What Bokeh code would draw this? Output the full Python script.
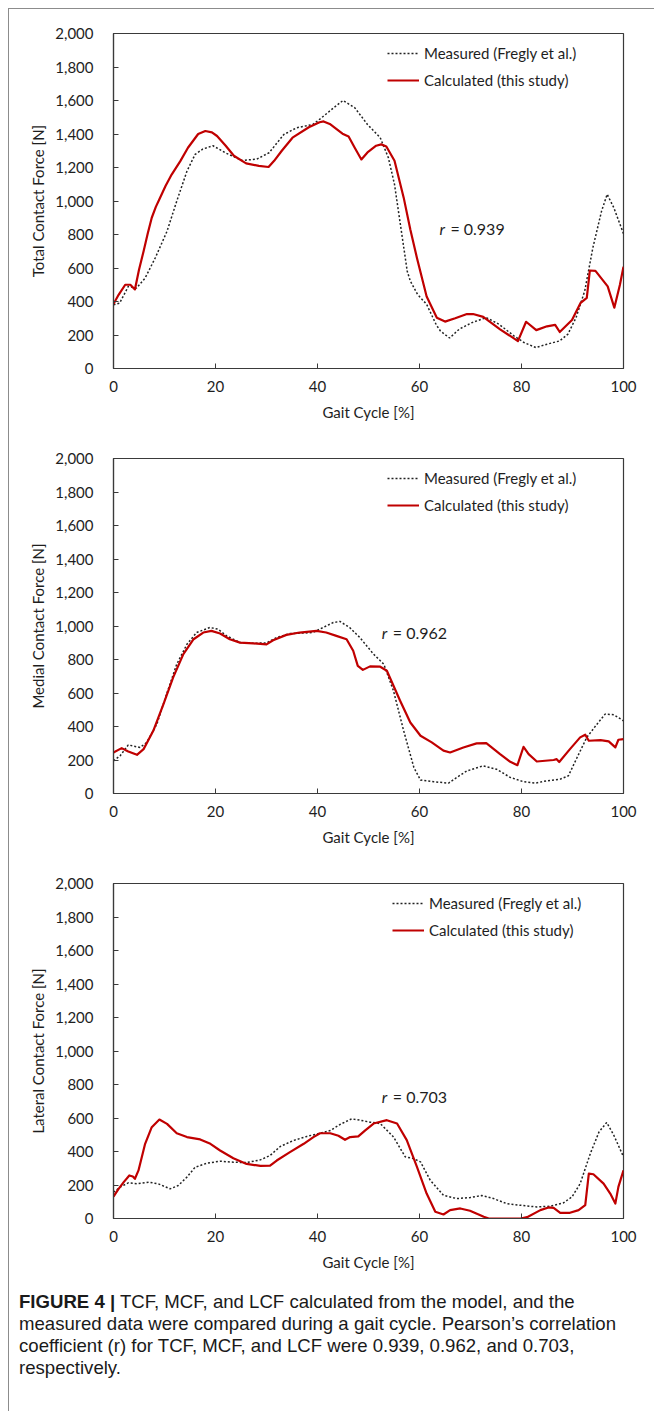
from bokeh.plotting import figure
from bokeh.models import Range1d, FixedTicker, NumeralTickFormatter, Legend, LegendItem, Label, Div
from bokeh.layouts import column
from bokeh.embed import file_html
from bokeh.resources import INLINE

# ---------------- data ----------------
x_ticks = [0, 20, 40, 60, 80, 100]
y_ticks = [0, 200, 400, 600, 800, 1000, 1200, 1400, 1600, 1800, 2000]

legend_labels = ["Measured (Fregly et al.)", "Calculated (this study)"]
y_titles = ["Total Contact Force [N]", "Medial Contact Force [N]", "Lateral Contact Force [N]"]
x_title = "Gait Cycle [%]"
r_texts = ["= 0.939", "= 0.962", "= 0.703"]
r_pos = [(63.9, 834), (52.6, 961), (52.6, 730)]

# Total contact force
tcf_meas_x = [0, 1.2, 2.9, 4.5, 6.2, 8.2, 10.5, 12.4, 14.4, 16.0, 17.5, 19.5, 21.9, 25.2, 28.1, 30.5,
              33.4, 35.9, 39.1, 40.8, 43.2, 45.0, 47.3, 49.8, 52.3, 53.9, 55.1, 56.3, 57.6, 58.2, 59.6,
              61.4, 63.3, 64.1, 65.9, 67.8, 70.3, 73.1, 75.6, 78.5, 80.5, 82.8, 85.0, 87.5, 89.1, 90.7,
              92.4, 94.0, 95.7, 96.8, 98.1, 100]
tcf_meas_y = [380, 390, 490, 480, 540, 661, 820, 999, 1178, 1278, 1310, 1330, 1288, 1242, 1250, 1288,
              1397, 1437, 1457, 1497, 1557, 1600, 1557, 1457, 1378, 1258, 1099, 850, 580, 522, 443,
              383, 260, 224, 182, 235, 274, 304, 264, 195, 155, 125, 145, 165, 205, 304,
              463, 722, 940, 1040, 960, 805]
tcf_calc_x = [0, 1.0, 2.3, 3.3, 4.2, 5.0, 5.9, 6.7, 7.5, 8.3, 9.0, 10.2, 11.4, 13.1, 14.6, 16.6, 18.0,
              19.3, 20.3, 22.0, 23.6, 26.0, 28.5, 30.4, 31.5, 33.0, 35.1, 38.3, 40.4, 41.2, 42.4, 44.9,
              46.1, 47.3, 48.6, 49.8, 51.5, 52.5, 53.5, 55.1, 56.9, 58.2, 59.5, 61.4, 63.4, 65.0, 67.0,
              69.3, 70.5, 72.5, 75.8, 78.0, 79.3, 80.9, 82.9, 85.0, 86.6, 87.5, 89.9, 91.6, 92.8, 93.4,
              94.5, 96.9, 98.2, 99.3, 100]
tcf_calc_y = [385, 440, 500, 500, 472, 590, 700, 805, 900, 965, 1010, 1090, 1158, 1238, 1318, 1400, 1418,
              1410, 1388, 1330, 1270, 1225, 1210, 1203, 1240, 1300, 1378, 1440, 1470, 1475, 1460, 1402,
              1385, 1318, 1248, 1290, 1330, 1338, 1325, 1240, 1020, 830, 660, 430, 303, 280, 300,
              325, 325, 308, 234, 190, 163, 279, 229, 252, 260, 218, 290, 392, 422, 585,
              583, 490, 363, 500, 608]

# Medial contact force
mcf_meas_x = [0, 1.3, 2.9, 3.9, 5.2, 6.5, 8.5, 10.4, 12.4, 14.4, 16.3, 18.9, 20.5, 22.2, 24.8, 27.4,
              30.0, 32.0, 34.6, 36.5, 39.1, 41.1, 43.1, 44.4, 46.3, 48.3, 51.0, 53.0, 54.9, 56.9, 58.9,
              60.2, 62.8, 65.7, 67.3, 69.3, 72.5, 75.1, 77.8, 80.4, 82.7, 85.0, 87.6, 89.2, 90.9, 92.8,
              94.8, 96.4, 98.1, 100]
mcf_meas_y = [195, 225, 290, 283, 275, 304, 414, 593, 772, 891, 961, 991, 981, 941, 901, 897,
              899, 931, 955, 957, 961, 991, 1021, 1027, 991, 931, 832, 772, 613, 374, 155,
              80, 70, 62, 96, 135, 165, 145, 96, 70, 62, 76, 86, 106, 215, 335,
              414, 474, 470, 434]
mcf_calc_x = [0, 1.6, 2.9, 4.6, 5.9, 7.8, 9.8, 11.7, 13.7, 15.7, 17.6, 19.2, 20.9, 22.8, 24.8, 27.4,
              30.0, 31.3, 33.9, 36.5, 39.8, 41.7, 43.7, 45.7, 47.0, 47.9, 48.9, 50.3, 52.3, 53.6, 56.2,
              58.2, 60.2, 62.4, 64.7, 66.0, 68.6, 71.2, 73.1, 75.8, 77.8, 79.2, 80.4, 81.4, 83.0, 86.3,
              86.9, 87.4, 89.5, 91.5, 92.5, 93.2, 95.5, 97.1, 98.4, 99.0, 100]
mcf_calc_y = [245, 271, 251, 231, 265, 374, 533, 693, 832, 921, 961, 971, 955, 921, 901, 896,
              890, 915, 947, 961, 971, 961, 941, 921, 852, 762, 738, 759, 757, 733, 554,
              424, 345, 305, 256, 245, 275, 299, 301, 235, 189, 169, 279, 235, 191, 200,
              205, 188, 265, 335, 351, 315, 319, 311, 275, 321, 325]

# Lateral contact force
lcf_meas_x = [0, 1.3, 2.9, 4.6, 6.9, 8.8, 11.1, 12.7, 14.4, 16.0, 18.3, 20.9, 23.5, 26.1, 28.8, 30.7,
              32.7, 35.3, 37.9, 40.5, 42.5, 44.4, 46.7, 48.4, 50.3, 52.3, 54.9, 57.2, 58.8, 60.2, 62.1,
              64.7, 67.3, 69.9, 72.2, 74.5, 77.1, 79.8, 83.0, 85.6, 88.2, 89.9, 91.5, 93.5, 95.2, 96.7,
              98.1, 100]
lcf_meas_y = [157, 187, 213, 207, 217, 207, 177, 197, 247, 306, 330, 342, 336, 334, 350, 376,
              430, 466, 490, 509, 525, 561, 595, 587, 575, 567, 487, 368, 358, 338, 229,
              139, 119, 125, 137, 119, 89, 79, 69, 73, 93, 129, 208, 388, 517, 573,
              497, 368]
lcf_calc_x = [0, 1.0, 2.0, 3.1, 3.8, 4.2, 4.9, 6.2, 7.5, 9.0, 10.5, 12.4, 14.4, 17.0, 19.0, 20.9,
              23.5, 26.1, 28.8, 30.7, 32.0, 34.6, 37.3, 39.2, 40.5, 42.5, 44.1, 45.4, 46.4, 48.0, 49.3,
              51.0, 53.6, 55.6, 57.5, 59.5, 61.4, 63.1, 64.7, 66.0, 68.0, 69.9, 72.6, 73.6, 79.8, 81.1,
              83.7, 85.3, 86.3, 87.6, 89.5, 91.2, 92.5, 93.2, 94.1, 96.1, 97.4, 98.4, 99.0, 100]
lcf_calc_y = [131, 177, 217, 257, 251, 237, 287, 446, 545, 591, 565, 509, 486, 472, 446, 406,
              360, 326, 314, 316, 346, 396, 446, 486, 509, 509, 494, 470, 486, 490, 525,
              567, 587, 567, 468, 308, 149, 40, 24, 50, 60, 46, 10, 0, 0, 8,
              50, 66, 64, 34, 34, 50, 80, 268, 264, 208, 149, 89, 189, 288]

caption_bold = "FIGURE 4 |"
caption_lines = [
    "TCF, MCF, and LCF calculated from the model, and the",
    "measured data were compared during a gait cycle. Pearson\u2019s correlation",
    "coefficient (r) for TCF, MCF, and LCF were 0.939, 0.962, and 0.703,",
    "respectively.",
]

# ---------------- styling ----------------
RED = "#C00000"
DOT = "#222222"
TXT = "#1e1e1e"
AX = "#3a3a3a"
FONT = "Lato"
legend_xs = [274, 274, 279]


def make_panel(idx, mx, my, cx, cy):
    p = figure(width=645, height=425, output_backend="svg", toolbar_location=None,
               x_range=Range1d(0, 100), y_range=Range1d(0, 2000),
               min_border_left=104, min_border_right=31, min_border_top=24, min_border_bottom=66,
               background_fill_color="white", border_fill_color="white")
    p.grid.visible = False
    p.outline_line_color = AX
    p.outline_line_width = 1.2

    rm = p.line(mx, my, line_color=DOT, line_width=1.5, line_dash="2 2")
    rc = p.line(cx, cy, line_color=RED, line_width=2.2, line_join="round")

    p.xaxis.ticker = FixedTicker(ticks=x_ticks)
    p.yaxis.ticker = FixedTicker(ticks=y_ticks)
    p.yaxis.formatter = NumeralTickFormatter(format="0,0")
    for ax in (p.xaxis[0], p.yaxis[0]):
        ax.major_tick_in = 5
        ax.major_tick_out = 0
        ax.minor_tick_line_color = None
        ax.axis_line_color = AX
        ax.axis_line_width = 1.2
        ax.major_tick_line_color = AX
        ax.major_label_text_font = FONT
        ax.major_label_text_font_size = "15px"
        ax.major_label_text_color = TXT
        ax.axis_label_text_font = FONT
        ax.axis_label_text_font_size = "15px"
        ax.axis_label_text_font_style = "normal"
        ax.axis_label_text_color = TXT
    p.xaxis.major_label_standoff = 12
    p.yaxis.major_label_standoff = 20
    p.xaxis.axis_label_standoff = 8
    p.yaxis.axis_label_standoff = 5
    p.xaxis.axis_label = x_title
    p.yaxis.axis_label = y_titles[idx]

    legend = Legend(items=[LegendItem(label=legend_labels[0], renderers=[rm]),
                           LegendItem(label=legend_labels[1], renderers=[rc])],
                    location=(legend_xs[idx], 278), orientation="vertical",
                    border_line_color=None, background_fill_alpha=0,
                    padding=0, margin=0, spacing=7, glyph_width=32, glyph_height=20,
                    label_height=20, label_standoff=5,
                    label_text_font=FONT, label_text_font_size="15px", label_text_color=TXT)
    p.add_layout(legend)

    rx, ry = r_pos[idx]
    p.add_layout(Label(x=rx, y=ry, text="r", text_font=FONT, text_font_size="16px",
                       text_font_style="italic", text_baseline="middle", text_color=TXT))
    p.add_layout(Label(x=rx, y=ry, x_offset=11, text=r_texts[idx], text_font=FONT,
                       text_font_size="16px", text_baseline="middle", text_color=TXT))
    return p


p1 = make_panel(0, tcf_meas_x, tcf_meas_y, tcf_calc_x, tcf_calc_y)
p2 = make_panel(1, mcf_meas_x, mcf_meas_y, mcf_calc_x, mcf_calc_y)
p3 = make_panel(2, lcf_meas_x, lcf_meas_y, lcf_calc_x, lcf_calc_y)

cap_html = "<b>" + caption_bold + "</b> " + "<br>".join(caption_lines)
cap = Div(text=cap_html, width=634, height=120, margin=(7, 0, 0, 10),
          styles={"font-family": "'Liberation Sans', Arial, sans-serif", "font-size": "18.6px",
                  "line-height": "22px", "color": "#1a1a1a", "white-space": "nowrap"})

layout = column(p1, p2, p3, cap, spacing=0, margin=(8, 0, 0, 8),
                styles={"border-top": "1px solid #8c8c8c", "border-left": "1px solid #8c8c8c"})

open("out.html", "w").write(file_html(layout, INLINE))
